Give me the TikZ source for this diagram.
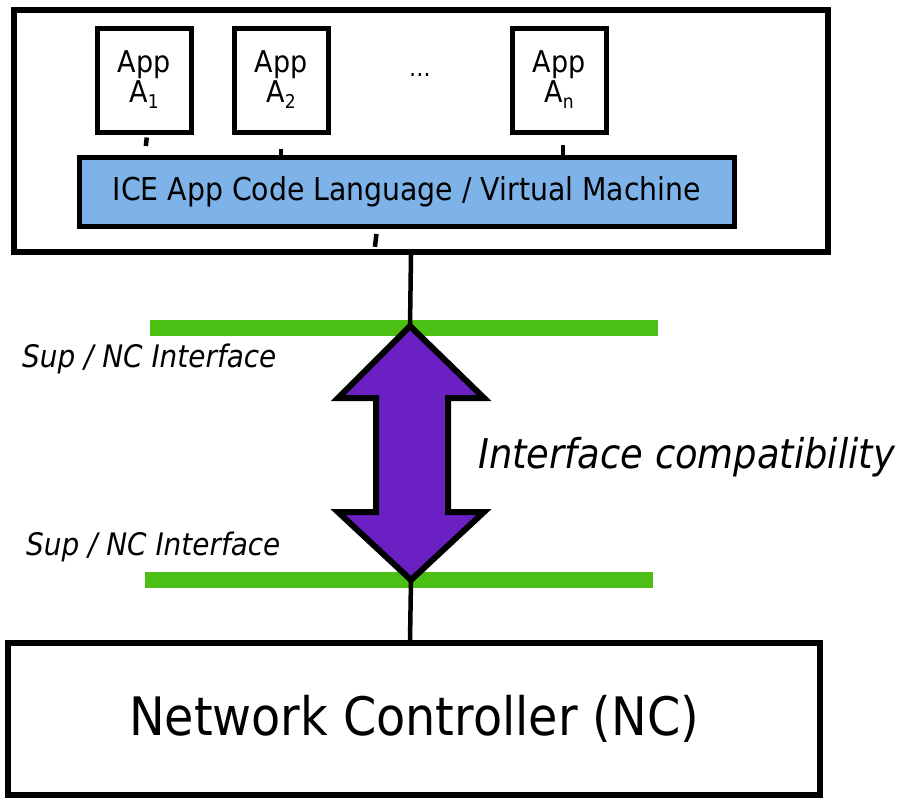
\documentclass[tikz,border=0pt]{standalone}
\usepackage{fontspec}
\setmainfont{DejaVu Sans Condensed}
\definecolor{barblue}{HTML}{7DB3E8}
\definecolor{ifgreen}{HTML}{4CBF14}
\definecolor{arrpurple}{HTML}{6B20C4}
\newcommand{\appsub}[1]{\raisebox{-6pt}{\fontsize{19}{21}\selectfont #1}}
\begin{document}
\begin{tikzpicture}[x=1pt,y=-1pt,
  outerbox/.style={draw, line width=5.5pt, rectangle, inner sep=0pt},
  appbox/.style={draw, line width=5pt, minimum width=94pt, minimum height=104pt, inner sep=0pt, align=center, font=\fontsize{30}{34}\selectfont},
  stub/.style={line width=4.5pt},
  ifline/.style={ifgreen, line width=16pt},
  iflabel/.style={anchor=west, font=\itshape\fontsize{31}{35}\selectfont, inner sep=0pt}]
\useasboundingbox (0,0) rectangle (907,798);
% outer top box
\node[outerbox, minimum width=814pt, minimum height=242pt] (top) at (421,131) {};
% apps
\node[appbox] (a1) at (144,80) {\raisebox{-4pt}{App}\\A\appsub{1}};
\node[appbox] (a2) at (281,80) {\raisebox{-4pt}{App}\\A\appsub{2}};
\node[appbox] (an) at (559,80) {\raisebox{-4pt}{App}\\A\appsub{n}};
\node[font=\fontsize{24}{28}\selectfont] (dots) at (420,75) {\dots};
% bar
\node[draw, line width=5pt, fill=barblue, minimum width=655pt, minimum height=69pt, inner sep=0pt, font=\fontsize{31.5}{36}\selectfont] (bar) at (407,192) {\raisebox{-3pt}{ICE App Code Language / Virtual Machine}};
% stubs
\draw[stub, shorten <=3pt, shorten >=9pt] ([xshift=3pt]a1.south) -- ([xshift=1pt]bar.north -| a1.south);
\draw[stub, shorten <=14pt] (a2.south) -- (bar.north -| a2.south);
\draw[stub, shorten <=10pt] ([xshift=4pt]an.south) -- ([xshift=4pt]bar.north -| an.south);
\coordinate (bs) at ([xshift=-30pt]bar.south);
\draw[stub, shorten <=5pt, shorten >=8pt] (bs) -- ([xshift=-3pt]bs |- top.south);
% green interface lines
\coordinate (gtl) at (150,328); \coordinate (gtr) at (658,328);
\coordinate (gbl) at (145,580); \coordinate (gbr) at (653,580);
\draw[ifline] (gtl) -- (gtr);
\draw[ifline] (gbl) -- (gbr);
\node[iflabel] (l1) at (22,359) {Sup / NC Interface};
\node[iflabel] (l2) at (26,547) {Sup / NC Interface};
% double arrow
\coordinate (tipT) at (410,326);
\coordinate (tipB) at (411,580);
\draw[line width=6pt, line join=miter, fill=arrpurple]
  (tipT) -- (484,398) -- (448,398) -- (448,512) -- (484,512) -- (tipB)
  -- (338,512) -- (376,512) -- (376,398) -- (338,398) -- cycle;
\node[anchor=west, font=\itshape\fontsize{41}{46}\selectfont, inner sep=0pt] (compat) at (478,457) {Interface compatibility};
% NC box
\node[outerbox, minimum width=812pt, minimum height=152pt, font=\fontsize{53}{60}\selectfont] (nc) at (414,719) {\raisebox{-3pt}{Network Controller (NC)}};
% connectors
\draw[stub] ([xshift=-10pt]top.south) -- (tipT);
\draw[stub] (tipB) -- ([xshift=-1pt]tipB |- nc.north);
\end{tikzpicture}
\end{document}
